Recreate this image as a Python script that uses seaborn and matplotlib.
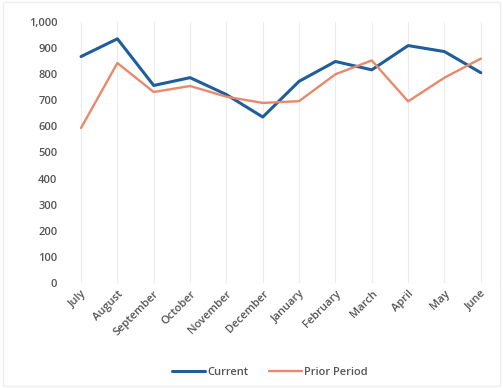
import numpy as np
import pandas as pd
import matplotlib
matplotlib.use("Agg")
import matplotlib.pyplot as plt
import seaborn as sns
from matplotlib.ticker import FuncFormatter

months = ["July", "August", "September", "October", "November", "December",
          "January", "February", "March", "April", "May", "June"]
current = [868, 936, 757, 787, 722, 636, 773, 849, 817, 910, 887, 806]
prior_period = [594, 843, 732, 755, 714, 690, 697, 800, 853, 696, 787, 860]

df = pd.DataFrame({
    "Month": months * 2,
    "Value": current + prior_period,
    "Series": ["Current"] * len(months) + ["Prior Period"] * len(months),
})

sns.set_theme(style="white")
plt.rcParams['font.family'] = ['Open Sans', 'DejaVu Sans']

fig = plt.figure(figsize=(5.03, 3.88), dpi=100)
ax = fig.add_axes([0.125, 0.271, 0.867, 0.672])

palette = {"Current": "#1f5e9c", "Prior Period": "#e8886c"}
sns.lineplot(data=df, x="Month", y="Value", hue="Series", palette=palette,
             sort=False, ax=ax)
ax.lines[0].set_linewidth(2.2)
ax.lines[1].set_linewidth(1.7)

ax.set_xlim(-0.5, len(months) - 0.5)
ax.set_ylim(0, 1000)
ax.set_yticks(np.arange(0, 1001, 100))
ax.yaxis.set_major_formatter(FuncFormatter(lambda v, p: f"{int(v):,}"))
ax.set_xlabel("")
ax.set_ylabel("")
for s in ax.spines.values():
    s.set_visible(False)
ax.grid(axis="x", color="#ececec", linewidth=0.8)
ax.axhline(0, color="#e4e4e4", linewidth=0.8)
ax.tick_params(axis="both", length=0, labelsize=8, labelcolor="#555555", pad=4)
for t in ax.get_xticklabels() + ax.get_yticklabels():
    t.set_fontweight("semibold")
plt.setp(ax.get_xticklabels(), rotation=45, ha="right", rotation_mode="anchor")

leg = ax.legend(loc="upper center", bbox_to_anchor=(0.475, -0.285), ncol=2,
                frameon=False, fontsize=8, handlelength=3, columnspacing=1.8,
                handletextpad=0.2)
for t in leg.get_texts():
    t.set_color("#555555")
    t.set_fontweight("semibold")
leg.get_lines()[0].set_linewidth(2.2)
leg.get_lines()[1].set_linewidth(1.7)

fig.patches.append(plt.Rectangle((0.005, 0.005), 0.99, 0.99, transform=fig.transFigure,
                                 fill=False, edgecolor="#eeeeee", linewidth=1))

fig.savefig("out.png", dpi=100)
